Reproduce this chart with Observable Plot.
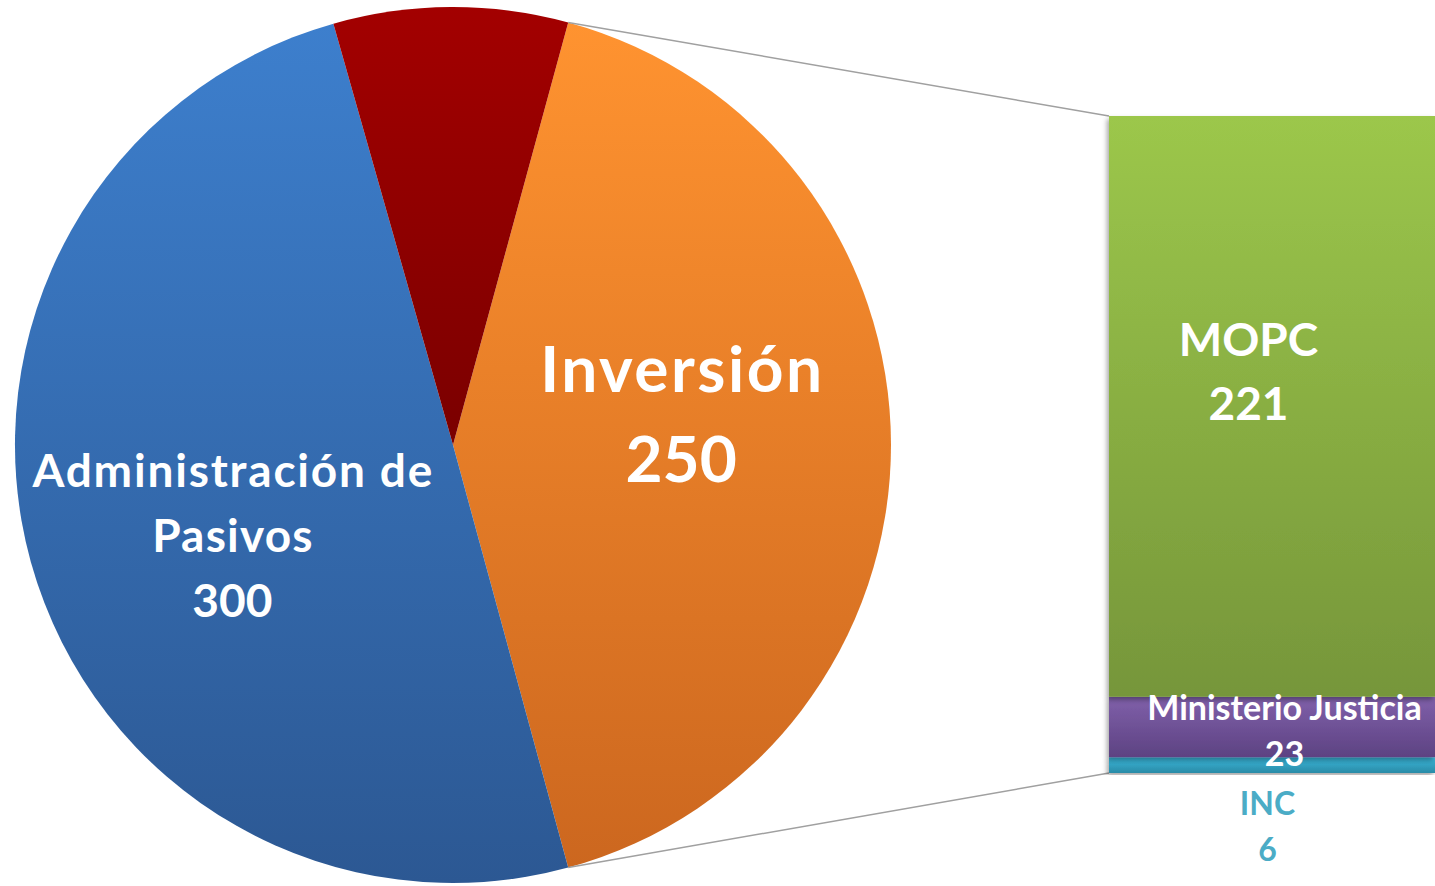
<!DOCTYPE html>
<html><head><meta charset="utf-8">
<script src="https://cdn.jsdelivr.net/npm/d3@7"></script>
<script src="https://cdn.jsdelivr.net/npm/@observablehq/plot@0.6"></script>
<style>html,body{margin:0;padding:0;background:#fff;overflow:hidden}</style>
</head><body><div id="chart"></div>
<script>
// ---- data ----
const pieCategories = ["Inversión", "Administración de Pasivos", "Otros"];
const pieValues = [250, 300, 52];
const pieLabelLines = [["Inversión", "250"], ["Administración de", "Pasivos", "300"], []];
const barCategories = ["INC", "Ministerio Justicia", "MOPC"];   // bottom to top
const barValues = [6, 23, 221];
const barLabelLines = [["INC", "6"], ["Ministerio Justicia", "23"], ["MOPC", "221"]];

// ---- styles / layout ----
const W = 1435, H = 886;
const CX = 453, CY = 445, R = 438;
const BAR_X0 = 1109, BAR_X1 = 1435, BAR_TOP = 116, BAR_BOTTOM = 773;
const FONT = "Lato, 'Open Sans', sans-serif";
const pieGrad = [["#ff9330", "#cc671f"], ["#3d7fcd", "#2c5893"], ["#a30000", "#7a0000"]];
const barGrad = [["#3ab6d9", "#2a8ba7"], ["#8060aa", "#5d4282"], ["#9cc74b", "#76963a"]];
const pieLabelStyle = [
  {size: 64, lh: 1.4, nudge: [-4, -31], spacing: [2.5, 0]},
  {size: 46, lh: 1.41, nudge: [3, 28], spacing: [1.8, 1.2, 0]},
  {size: 40, lh: 1.4, nudge: [0, 0], spacing: []}
];
const barLabelStyle = [
  {size: 32, lh: 1.44, fill: "#4bacc6", dx: -5, dy: 58},
  {size: 34, lh: 1.36, fill: "white", dx: 12, dy: 1},
  {size: 46, lh: 1.39, fill: "white", dx: -24, dy: -39}
];

const total = d3.sum(pieValues);
const barTotal = d3.sum(barValues);
const start = Math.PI / 2 - Math.PI * pieValues[0] / total;
const arcs = d3.pie().sort(null).startAngle(start).endAngle(start + 2 * Math.PI)(pieValues);

// cumulative stacking for bar
let acc = 0;
const barData = barCategories.map((c, i) => {
  const y1 = acc; acc += barValues[i];
  return {name: c, value: barValues[i], y1, y2: acc, mid: (y1 + acc) / 2, i};
});

function pieMark(index, scales, values, dims, ctx) {
  const doc = ctx.document;
  const ns = "http://www.w3.org/2000/svg";
  const g = d3.select(doc.createElementNS(ns, "g"));
  const defs = g.append("defs");
  const mk = (id, c) => {
    const lg = defs.append("linearGradient").attr("id", id).attr("x1", 0).attr("y1", 0).attr("x2", 0).attr("y2", 1);
    lg.append("stop").attr("offset", "0%").attr("stop-color", c[0]);
    lg.append("stop").attr("offset", "100%").attr("stop-color", c[1]);
  };
  pieGrad.forEach((c, i) => mk("pg" + i, c));
  barGrad.forEach((c, i) => mk("bg" + i, c));
  const f = defs.append("filter").attr("id", "shadow").attr("x", "-5%").attr("y", "-5%").attr("width", "115%").attr("height", "115%");
  f.append("feDropShadow").attr("dx", -2).attr("dy", 3).attr("stdDeviation", 2.5).attr("flood-color", "#000").attr("flood-opacity", 0.35);

  const arc = d3.arc().innerRadius(0).outerRadius(R);
  const pg = g.append("g").attr("transform", `translate(${CX},${CY})`);
  arcs.forEach((a, i) => {
    pg.append("path").attr("d", arc(a)).attr("fill", `url(#pg${i})`);
  });
  // connectors
  const inv = arcs[0];
  const pt = (ang) => [CX + R * Math.sin(ang), CY - R * Math.cos(ang)];
  const p0 = pt(inv.startAngle), p1 = pt(inv.endAngle);
  const bx = scales.x(BAR_X0);
  g.append("line").attr("x1", p0[0]).attr("y1", p0[1]).attr("x2", bx).attr("y2", scales.y(barTotal))
    .attr("stroke", "#a0a0a0").attr("stroke-width", 1.5);
  g.append("line").attr("x1", p1[0]).attr("y1", p1[1]).attr("x2", bx).attr("y2", scales.y(0))
    .attr("stroke", "#a0a0a0").attr("stroke-width", 1.5);
  // labels
  arcs.forEach((a, i) => {
    const lines = pieLabelLines[i];
    if (!lines.length) return;
    const st = pieLabelStyle[i];
    const m = (a.startAngle + a.endAngle) / 2;
    const rr = R * 0.53;
    const x = CX + rr * Math.sin(m) + st.nudge[0];
    const y = CY - rr * Math.cos(m) + st.nudge[1];
    const L = st.size * st.lh;
    const t = g.append("text").attr("text-anchor", "middle").attr("fill", "white")
      .attr("font-family", FONT).attr("font-weight", 700).attr("font-size", st.size);
    lines.forEach((s, k) => {
      const sp = st.spacing[k] || 0;
      t.append("tspan").attr("x", x + sp / 2).attr("y", y - (lines.length - 1) * L / 2 + k * L + st.size * 0.36)
        .attr("letter-spacing", sp).text(s);
    });
  });
  return g.node();
}

const marks = [pieMark];
barData.forEach((d, i) => {
  marks.push(Plot.rectY([d], {x1: BAR_X0, x2: BAR_X1, y1: "y1", y2: "y2", fill: () => `url(#bg${i})`}));
});
barData.forEach((d, i) => {
  const st = barLabelStyle[i];
  marks.push(Plot.text([d], {
    x: (BAR_X0 + BAR_X1) / 2, y: "mid", text: () => barLabelLines[i].join("\n"),
    lineAnchor: "middle", lineHeight: st.lh, fontSize: st.size, fontWeight: 700,
    fontFamily: FONT, fill: st.fill, dx: st.dx, dy: st.dy
  }));
});

const chart = Plot.plot({
  width: W, height: H, margin: 0,
  x: {domain: [0, W], range: [0, W], axis: null},
  y: {domain: [0, barTotal], range: [BAR_BOTTOM, BAR_TOP], axis: null},
  color: {type: "identity"},
  style: {background: "white", fontFamily: FONT, overflow: "visible"},
  marks
});
// shadow for the bar
chart.querySelectorAll('g[aria-label="rect"]').forEach(n => n.setAttribute("filter", "url(#shadow)"));
document.getElementById("chart").appendChild(chart);
</script>
</body></html>
